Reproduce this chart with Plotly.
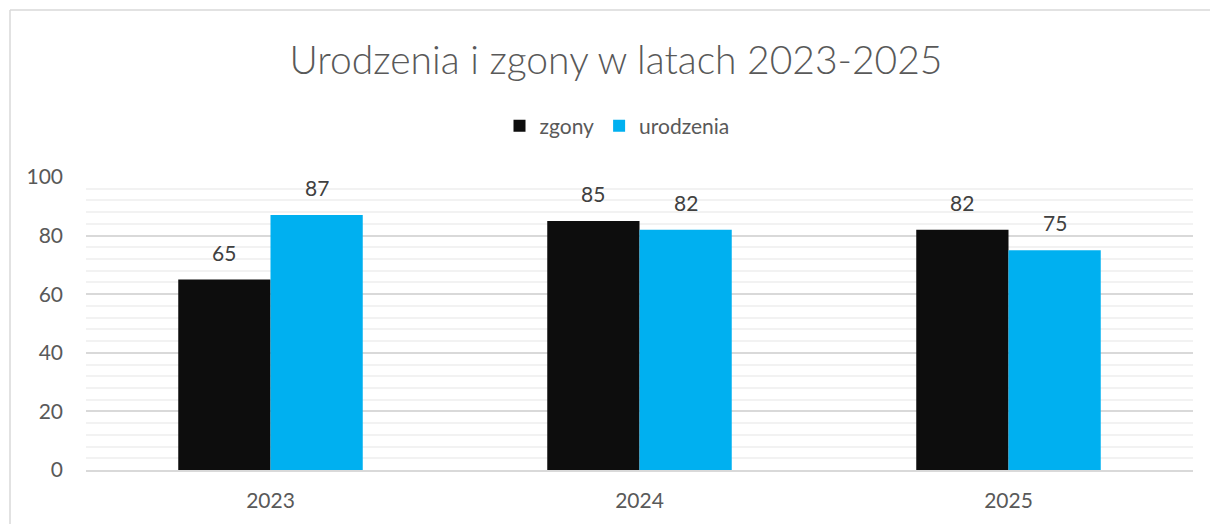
import plotly.graph_objects as go

years = ["2023", "2024", "2025"]
zgony = [65, 85, 82]
urodzenia = [87, 82, 75]
y_ticks = [0, 20, 40, 60, 80, 100]

FONT = "Lato"
GRAY = "#595959"
LABEL = "#404040"

L, R, T, B = 86, 17, 177, 54
W, H = 1210, 524
pw, ph = W - L - R, H - T - B

fig = go.Figure()
fig.add_trace(go.Bar(name="zgony", x=years, y=zgony, marker_color="#0d0d0d",
                     marker_line_width=0))
fig.add_trace(go.Bar(name="urodzenia", x=years, y=urodzenia, marker_color="#00b0f0",
                     marker_line_width=0))

# data labels above bars (offset to each bar of the group; x = category index)
bar_px = pw / len(years) * 0.5 / 2
for vals, sign in ((zgony, -1), (urodzenia, 1)):
    for i, v in enumerate(vals):
        fig.add_annotation(x=i, y=v, xref="x", yref="y", text=str(v), showarrow=False,
                           xshift=sign * bar_px / 2, yshift=13, yanchor="bottom",
                           font=dict(size=21, color=LABEL, family=FONT))

fig.update_layout(
    width=W, height=H,
    margin=dict(l=L, r=R, t=T, b=B),
    paper_bgcolor="white", plot_bgcolor="white",
    barmode="group", bargap=0.5, bargroupgap=0,
    font=dict(family=FONT, color=GRAY, size=20),
    title=dict(text="Urodzenia i zgony w latach 2023-2025", xref="container",
               x=616 / W, xanchor="center",
               y=1 - 60 / H, yanchor="middle",
               font=dict(size=39, color=GRAY, family=FONT, weight=300)),
    legend=dict(orientation="h", x=(617 - L) / pw, xanchor="center", y=(H - B - 126) / ph,
                yanchor="middle", font=dict(size=21, color=GRAY, family=FONT),
                itemwidth=30, traceorder="normal"),
    xaxis=dict(type="category", range=[-0.5, len(years) - 0.5], showgrid=False,
               showline=True, linecolor="#d9d9d9",
               linewidth=1.5, tickfont=dict(size=21, color=GRAY), ticks="",
               ticklabelstandoff=11),
    yaxis=dict(range=[0, 100], tickvals=y_ticks, showgrid=True, gridcolor="#d9d9d9",
               gridwidth=1.5, zeroline=False, showline=False, ticks="",
               tickfont=dict(size=21, color=GRAY), ticklabelstandoff=22,
               minor=dict(dtick=4, showgrid=True, gridcolor="#f2f2f2", gridwidth=1.5)),
    showlegend=True,
)

# chart border (partially outside the view)
fig.add_shape(type="line", xref="paper", yref="paper",
              x0=(10 - L) / pw, x1=(10 - L) / pw, y0=(H - B - 10) / ph, y1=(H - B - 530) / ph,
              line=dict(color="#d9d9d9", width=1.5))
fig.add_shape(type="line", xref="paper", yref="paper",
              x0=(10 - L) / pw, x1=(1215 - L) / pw, y0=(H - B - 10) / ph, y1=(H - B - 10) / ph,
              line=dict(color="#d9d9d9", width=1.5))

fig.write_html("out.html", config={"displayModeBar": False},
               post_script="document.body.style.margin='0';document.body.style.overflow='hidden';")
